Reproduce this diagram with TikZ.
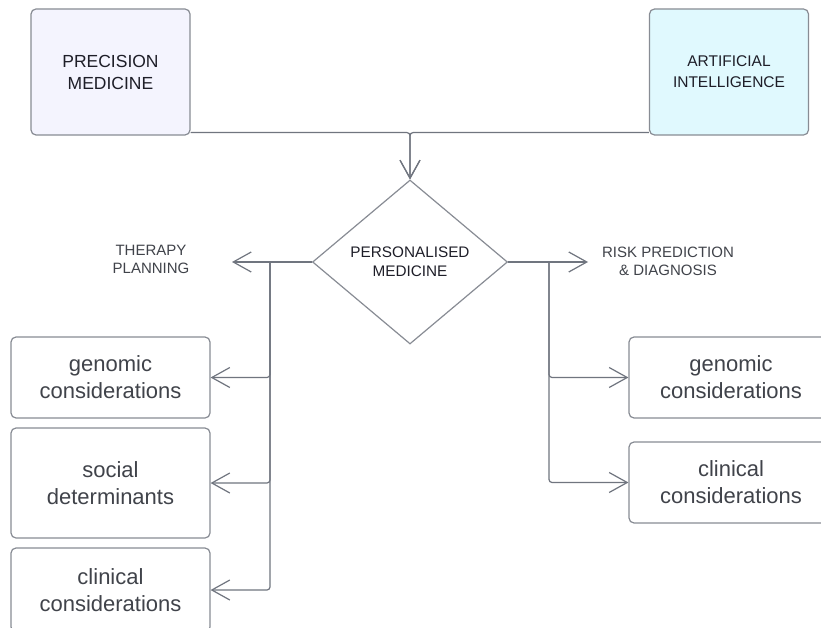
\documentclass[tikz,border=0pt]{standalone}
\usepackage{fontspec}
\setmainfont{Liberation Sans}
\usepackage{tikz}
\usetikzlibrary{arrows.meta}
\usetikzlibrary{shapes.geometric}
\usetikzlibrary{calc}
\definecolor{LineGray}{RGB}{112,117,127}
\definecolor{BoxGray}{RGB}{136,140,148}
\definecolor{LavenderFill}{RGB}{244,244,254}
\definecolor{CyanFill}{RGB}{224,249,254}
\definecolor{InkDark}{RGB}{30,30,40}
\definecolor{InkGray}{RGB}{64,67,74}
\tikzstyle{arrow} = [line width=1.2pt, LineGray, -{Straight Barb[length=18pt,width=20pt]}, rounded corners=3pt]
\tikzstyle{topbox} = [draw=BoxGray, line width=1.2pt, rounded corners=5pt, minimum width=159pt, minimum height=126pt, align=center, text=InkDark, font=\fontsize{15.5}{21}\selectfont]
\tikzstyle{decision} = [diamond, draw=BoxGray, line width=1.2pt, inner sep=0pt, minimum width=195pt, minimum height=164pt, align=center, text=InkDark, font=\fontsize{15.3}{19}\selectfont]
\tikzstyle{factorbox} = [draw=BoxGray, line width=1.2pt, rounded corners=5pt, minimum width=199pt, align=center, text=InkGray, font=\fontsize{22}{27}\selectfont]
\tikzstyle{caplabel} = [align=center, text=InkGray, font=\fontsize{15}{18}\selectfont]

\begin{document}
\begin{tikzpicture}[x=1pt, y=-1pt]
                \fill[white] (0,0) rectangle (821,628);
                \useasboundingbox (0,0) rectangle (821,628);

                % sources
                \node[topbox, fill=LavenderFill, font=\fontsize{17.5}{22}\selectfont] (pm) at (110.5,72) {PRECISION\\MEDICINE};
                \node[topbox, fill=CyanFill] (ai) at (729,72) {ARTIFICIAL\\INTELLIGENCE};
                \node[decision] (pmed) at (410,262) {PERSONALISED\\MEDICINE};

                \draw[arrow] ([yshift=3pt]pm.south east) -| (pmed.north);
                \draw[arrow] ([yshift=3pt]ai.south west) -| (pmed.north);

                % therapy planning
                \node[caplabel] (tplabel) at (151,259) {THERAPY\\PLANNING};
                \coordinate (tpend) at (232,262);
                \coordinate (tpsplit) at (270,262);
                \draw[arrow] (pmed.west) -- (tpend);

                \node[factorbox, minimum height=81pt] (lg) at (110.5,377.5) {genomic\\considerations};
                \node[factorbox, minimum height=110pt] (ls) at (110.5,483) {social\\determinants};
                \node[factorbox, minimum height=84pt] (lc) at (110.5,590) {clinical\\considerations};

                \foreach \b in {lg, ls, lc} {
                    \draw[arrow] (tpsplit) |- (\b.east);
                }

                % risk prediction
                \node[caplabel] (rplabel) at (668,261) {RISK PREDICTION\\\& DIAGNOSIS};
                \coordinate (rpend) at (588,262);
                \coordinate (rpsplit) at (549,262);
                \draw[arrow] (pmed.east) -- (rpend);

                \node[factorbox, minimum width=204pt, minimum height=81pt] (rg) at (731,377.5) {genomic\\considerations};
                \node[factorbox, minimum width=204pt, minimum height=81pt] (rc) at (731,482.5) {clinical\\considerations};

                \foreach \b in {rg, rc} {
                    \draw[arrow] (rpsplit) |- (\b.west);
                }
            \end{tikzpicture}
\end{document}
